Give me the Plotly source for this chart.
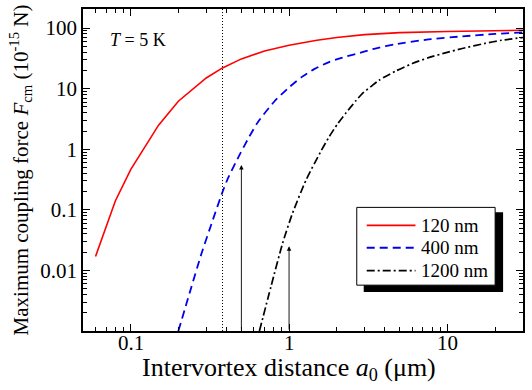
import plotly.graph_objects as go
import math

# ---- data ----
x_120 = [0.06, 0.07, 0.08, 0.1, 0.15, 0.2, 0.3, 0.38, 0.5, 0.7, 1.0, 1.5, 2.0, 3.0, 5.0, 10.0, 20.0, 30.0]
y_120 = [0.017, 0.053, 0.14, 0.46, 2.5, 6.2, 15, 22, 31, 42, 52, 63, 70, 78, 84, 88, 91, 92]

x_400 = [0.2, 0.236, 0.28, 0.33, 0.38, 0.411, 0.486, 0.56, 0.635, 0.81, 1.0, 1.2, 1.44, 1.79, 2.12,
         2.9, 3.5, 4.7, 7.6, 12.4, 20.0, 30.0]
y_400 = [0.001, 0.0043, 0.019, 0.068, 0.197, 0.33, 0.8, 1.6, 2.8, 6.2, 10.5, 15.5, 21, 27.5, 32,
         40, 46, 54, 65, 73, 80, 85]

x_1200 = [0.65, 0.77, 0.91, 1.05, 1.28, 1.59, 1.79, 2.02, 2.29, 2.64, 2.9, 3.28, 3.7, 4.7, 6.0,
          7.6, 9.7, 12.4, 17.3, 22.0, 30.0]
y_1200 = [0.001, 0.0055, 0.028, 0.087, 0.31, 0.93, 1.6, 2.6, 4.0, 6.3, 8.3, 10.8, 13.8, 19.5, 26,
          32.5, 39, 46, 56, 63, 70]

series_names = ["120 nm", "400 nm", "1200 nm"]
x_ticks = [0.1, 1, 10]
x_tick_labels = ["0.1", "1", "10"]
y_ticks = [0.01, 0.1, 1, 10, 100]
y_tick_labels = ["0.01", "0.1", "1", "10", "100"]
dotted_x = 0.38
arrow_x = [0.5, 1.0]
arrow_tip_y = [0.55, 0.025]

FONT = "Liberation Serif, Times New Roman, serif"

fig = go.Figure()
fig.add_trace(go.Scatter(x=x_120, y=y_120, mode="lines", name=series_names[0],
                         line=dict(color="#ff0000", width=1.6), showlegend=False))
fig.add_trace(go.Scatter(x=x_400, y=y_400, mode="lines", name=series_names[1],
                         line=dict(color="#0000ee", width=1.8, dash="8px,5px", shape="spline", smoothing=0.6),
                         showlegend=False))
fig.add_trace(go.Scatter(x=x_1200, y=y_1200, mode="lines", name=series_names[2],
                         line=dict(color="black", width=1.7, dash="8px,3px,2px,3px", shape="spline", smoothing=0.6),
                         showlegend=False))
fig.add_trace(go.Scatter(x=[dotted_x, dotted_x], y=[1e-3, 210], mode="lines",
                         line=dict(color="black", width=1, dash="1px,2px"), showlegend=False))

for ax_, ay_ in zip(arrow_x, arrow_tip_y):
    fig.add_annotation(x=math.log10(ax_), y=math.log10(ay_), ax=math.log10(ax_), ay=-3,
                       xref="x", yref="y", axref="x", ayref="y", showarrow=True,
                       arrowhead=2, arrowsize=1.0, arrowwidth=0.9, arrowcolor="black",
                       standoff=0, startstandoff=0, text="")

# plot area in pixels
L, R, T, B = 83, 525, 8, 331
W, H = 532, 390
def px(x):
    return (x - L) / (R - L)
def py(y):
    return (B - y) / (B - T)

# x tick labels (placed close to the axis as in the reference)
for v, t in zip(x_ticks, x_tick_labels):
    fig.add_annotation(x=math.log10(v), y=0, xref="x", yref="paper", text=t, showarrow=False,
                       xanchor="center", yanchor="middle", yshift=-12,
                       font=dict(family=FONT, size=21, color="black"))
# x axis title
fig.add_annotation(x=px(290), y=0, xref="paper", yref="paper", showarrow=False,
                   text="Intervortex distance <i>a</i><sub>0</sub> (μm)",
                   xanchor="center", yanchor="middle", yshift=-38,
                   font=dict(family=FONT, size=26, color="black"))

# manual legend with shadow
fig.add_shape(type="rect", xref="paper", yref="paper", x0=px(365), x1=px(505), y0=py(292), y1=py(212),
              fillcolor="black", line=dict(width=0), layer="above")
fig.add_shape(type="rect", xref="paper", yref="paper", x0=px(358), x1=px(497), y0=py(285), y1=py(207),
              fillcolor="white", line=dict(color="black", width=1), layer="above")
leg_y = [225, 247.5, 270.5]
leg_style = [dict(color="#ff0000", width=1.6), dict(color="#0000ee", width=1.8, dash="8px,5px"),
             dict(color="black", width=1.7, dash="8px,3px,2px,3px")]
for yy, st, nm in zip(leg_y, leg_style, series_names):
    fig.add_shape(type="line", xref="paper", yref="paper", x0=px(368), x1=px(417), y0=py(yy), y1=py(yy),
                  line=st, layer="above")
    fig.add_annotation(xref="paper", yref="paper", x=px(421), y=py(yy), text=nm, showarrow=False,
                       xanchor="left", yanchor="middle", font=dict(family=FONT, size=19, color="black"))

fig.add_annotation(xref="paper", yref="paper", x=px(108), y=py(39), text="<i>T</i> = 5 K", showarrow=False,
                   xanchor="left", yanchor="middle", font=dict(family=FONT, size=18, color="black"))

minor_x = [m * 10 ** d for d in range(-2, 2) for m in range(2, 10)]
minor_y = [m * 10 ** d for d in range(-3, 3) for m in range(2, 10)]

fig.update_xaxes(type="log", range=[math.log10(0.05), math.log10(30)],
                 tickvals=x_ticks, showticklabels=False,
                 ticks="inside", ticklen=7, tickwidth=1, tickcolor="black",
                 minor=dict(tickvals=minor_x, ticks="inside", ticklen=4, tickcolor="black", showgrid=False),
                 showline=True, linecolor="black", linewidth=1.5, mirror="ticks",
                 showgrid=False, zeroline=False)
fig.update_yaxes(type="log", range=[-3, 2.315],
                 tickvals=y_ticks, ticktext=y_tick_labels,
                 ticks="inside", ticklen=7, tickwidth=1, tickcolor="black",
                 minor=dict(tickvals=minor_y, ticks="inside", ticklen=4, tickcolor="black", showgrid=False),
                 showline=True, linecolor="black", linewidth=1.5, mirror="ticks",
                 showgrid=False, zeroline=False,
                 tickfont=dict(family=FONT, size=21, color="black"),
                 title=dict(text="Maximum coupling force <i>F</i><sub>cm</sub> (10<sup>-15</sup> N)",
                            font=dict(family=FONT, size=21, color="black"), standoff=6))

fig.update_layout(width=W, height=H, margin=dict(l=L, r=W - R, t=T, b=H - B),
                  paper_bgcolor="white", plot_bgcolor="white", showlegend=False)

fig.write_html("out.html")
